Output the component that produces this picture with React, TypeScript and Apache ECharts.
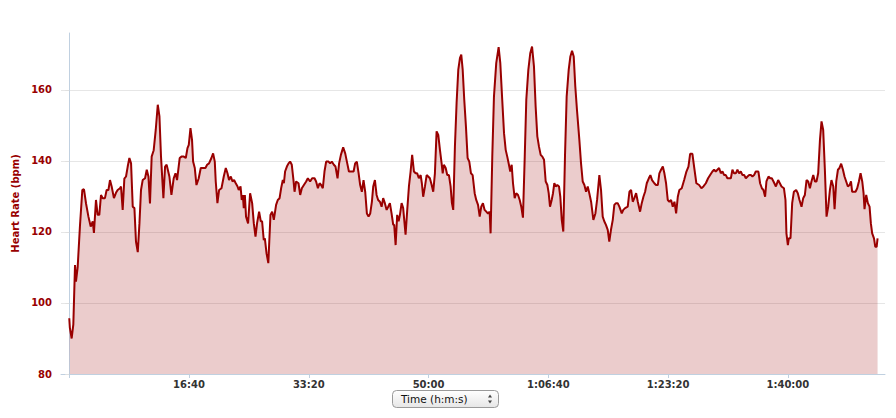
import React, { useEffect, useRef } from "react";
import * as echarts from "echarts";

// elapsed time in seconds
const timeSec = [
  0, 5, 20, 34, 48, 56, 70, 89, 109, 123, 140, 160, 179, 196, 206, 223, 237, 251, 265, 279,
  298, 312, 327, 340, 354, 373, 390, 404, 424, 432, 446, 460, 474, 488, 502, 516, 530, 544, 557, 572,
  586, 599, 613, 633, 647, 661, 674, 688, 705, 722, 739, 753, 766, 786, 800, 813, 836, 853, 872, 887,
  900, 922, 937, 956, 973, 987, 998, 1012, 1025, 1034, 1048, 1062, 1081, 1098, 1117, 1137, 1151, 1167, 1187, 1201,
  1215, 1223, 1237, 1251, 1271, 1290, 1307, 1321, 1334, 1349, 1363, 1376, 1390, 1405, 1415, 1430, 1440, 1449, 1457, 1466,
  1476, 1493, 1510, 1527, 1541, 1555, 1568, 1585, 1599, 1610, 1624, 1633, 1647, 1662, 1680, 1694, 1708, 1727, 1741, 1756,
  1769, 1783, 1792, 1802, 1817, 1831, 1844, 1858, 1872, 1881, 1894, 1914, 1928, 1942, 1959, 1978, 1992, 2011, 2028, 2048,
  2061, 2076, 2090, 2103, 2117, 2131, 2145, 2165, 2178, 2192, 2209, 2223, 2240, 2253, 2268, 2287, 2304, 2318, 2335, 2354,
  2374, 2387, 2401, 2416, 2429, 2443, 2457, 2471, 2485, 2499, 2513, 2527, 2538, 2552, 2566, 2579, 2594, 2608, 2621, 2635,
  2650, 2663, 2677, 2691, 2705, 2713, 2725, 2738, 2750, 2761, 2775, 2788, 2808, 2822, 2836, 2850, 2863, 2878, 2892, 2905,
  2919, 2934, 2944, 2955, 2970, 2984, 2997, 3011, 3026, 3039, 3053, 3067, 3081, 3095, 3109, 3118, 3128, 3143, 3156, 3170,
  3184, 3195, 3206, 3220, 3234, 3248, 3262, 3273, 3285, 3298, 3312, 3326, 3340, 3354, 3368, 3385, 3398, 3413, 3427, 3440,
  3454, 3468, 3482, 3496, 3510, 3518, 3532, 3546, 3565, 3585, 3599, 3615, 3630, 3644, 3657, 3671, 3682, 3694, 3705, 3719,
  3732, 3747, 3761, 3774, 3788, 3803, 3816, 3833, 3849, 3864, 3880, 3894, 3908, 3922, 3936, 3950, 3964, 3978, 3992, 4003,
  4014, 4028, 4039, 4050, 4062, 4075, 4089, 4100, 4112, 4125, 4139, 4153, 4170, 4184, 4198, 4212, 4225, 4239, 4259, 4273,
  4287, 4301, 4315, 4329, 4342, 4357, 4376, 4393, 4407, 4426, 4440, 4454, 4467, 4481, 4496, 4509, 4523, 4538, 4551, 4565,
  4579, 4593, 4613, 4626, 4641, 4663, 4677, 4691, 4705, 4718, 4733, 4747, 4766, 4780, 4794, 4808, 4822, 4839, 4852, 4866,
  4885, 4899, 4914, 4927, 4941, 4956, 4969, 4983, 4997, 5011, 5025, 5039, 5053, 5067, 5081, 5094, 5114, 5134, 5153, 5170,
  5184, 5203, 5217, 5236, 5259, 5278, 5295, 5315, 5334, 5351, 5370, 5384, 5398, 5412, 5426, 5440, 5454, 5468, 5482, 5495,
  5510, 5524, 5537, 5551, 5565, 5579, 5593, 5607, 5621, 5635, 5649, 5663, 5677, 5691, 5704, 5718, 5732, 5754, 5768, 5783,
  5796, 5810, 5821, 5838, 5852, 5866, 5880, 5900, 5919, 5933, 5947, 5967, 5980, 5988, 6000, 6008, 6022, 6036, 6050, 6069,
  6083, 6097, 6114, 6128, 6142, 6156, 6170, 6184, 6197, 6212, 6226, 6239, 6253, 6268, 6281, 6295, 6309, 6323, 6337, 6351,
  6364, 6379, 6390, 6404, 6418, 6431, 6445, 6460, 6473, 6487, 6501, 6515, 6527, 6537, 6551, 6565, 6579, 6593, 6607, 6621,
  6632, 6640, 6654, 6668, 6682, 6693, 6704, 6719, 6730, 6741, 6749,
];

// heart rate in bpm
const heartRate = [
  95.7, 93, 90, 94, 110.7, 106, 110, 121.5, 131.8, 132, 128, 124.3, 121.5, 123, 119.7, 129, 124.8, 124.8, 130.4, 129.5,
  129.5, 131.8, 131.8, 134.6, 132.8, 129.5, 131, 131.8, 132.3, 132.8, 126.2, 135, 135.6, 138.4, 140.8, 139.3, 127.1, 126.7, 117.3, 114.3,
  122.4, 131.8, 134.6, 135.1, 137.5, 135.6, 128, 141.2, 143, 148.7, 155.8, 152.5, 141.2, 129.5, 138.4, 138.9, 135.6, 130.4, 135.1, 136.5,
  134.6, 140.8, 141.2, 141.2, 140.8, 143.6, 144.5, 149.2, 145.9, 139.8, 138, 133.2, 135.1, 138, 138, 138, 138.9, 139.3, 140.8, 142.1,
  139.8, 134.2, 128.1, 131.8, 132.3, 135.6, 138, 136.5, 134.6, 135.6, 134.2, 134.6, 133.7, 132.8, 131.8, 132.8, 129, 130.4, 126.7, 130.4,
  124.3, 122.4, 130.9, 128.1, 122.4, 118.7, 122.4, 125.7, 123, 123, 117.7, 118.2, 114, 111.2, 124.8, 125.7, 123.4, 127.6, 129, 129.5,
  132.3, 134.6, 133.7, 137, 138.4, 139.3, 139.8, 138.9, 134.6, 131.3, 134.2, 133.7, 130.4, 132.3, 133.2, 134.2, 135.1, 134.2, 135.1, 135.1,
  134.2, 132.3, 133.7, 133.2, 132.3, 137, 139.8, 139.8, 139.3, 139.8, 138.9, 138.4, 135.1, 139.3, 141.7, 143.8, 142.1, 139.8, 137, 137,
  137, 139.3, 139.8, 136.5, 133.2, 131.3, 134.6, 131.3, 125.2, 124.3, 125.2, 128.5, 132.8, 134.6, 130.4, 129, 128.5, 127.1, 129.5, 128.1,
  126.2, 127.1, 128.1, 125.2, 122, 122, 116.3, 124.8, 123, 124.8, 128.1, 126.7, 119.2, 126.2, 132.8, 137, 141.7, 137, 136.5, 136.5,
  135.1, 136, 133.7, 129.9, 132.8, 136, 135.6, 135.1, 133.2, 131.3, 136.5, 148.3, 147.3, 143.1, 139.3, 136.5, 138.9, 138, 136, 136,
  132.8, 128.1, 126.2, 144, 156.3, 165.6, 168.9, 169.9, 165.6, 157.2, 149.7, 140.8, 139.8, 136.5, 136, 130.9, 129, 127.6, 124.3, 127.1,
  128.1, 126.2, 125.7, 125.2, 125.7, 119.6, 141.2, 158.1, 167.5, 172, 167.5, 157.2, 147.8, 143.1, 141.2, 138.9, 137, 138.9, 133.7, 129.5,
  130.9, 130.4, 129, 127.1, 124, 141.2, 157.2, 165.6, 170.3, 172.2, 166.6, 155.3, 146.9, 144, 141.7, 141.2, 140.3, 134.2, 133.2, 130.9,
  127.1, 129, 130.9, 133.7, 132.8, 133.2, 132.8, 129.9, 123.4, 120.1, 141.2, 158.1, 165.6, 169.4, 171, 169.4, 161, 154.4, 145.9, 139.3,
  134.2, 133.2, 131.3, 132.8, 130.9, 128.5, 123.4, 125.2, 129, 136, 131.8, 124.3, 123, 122, 120.6, 117.3, 120.6, 123.4, 127.6, 128.1,
  128.1, 127.1, 125.2, 126.2, 126.7, 127.1, 131.3, 131.8, 128.5, 129.5, 130.9, 128.5, 125.7, 128.1, 129.9, 131.3, 133.7, 135.1, 136, 134.6,
  133.7, 133.2, 133.2, 136.5, 137.5, 138.4, 136.5, 133.7, 129, 128.5, 129, 127.1, 128.5, 125.2, 129.9, 131.8, 132.3, 134.6, 137, 138.4,
  142, 142, 138.4, 133.7, 133.2, 132.3, 132.8, 133.7, 135.1, 136, 137, 137.5, 137, 137.5, 138, 136.5, 137, 136, 136, 135.1,
  135.1, 135.1, 137.5, 136.5, 136.5, 137.5, 136.5, 137, 136, 136, 135.1, 135.6, 136, 136, 135.6, 136, 137, 137, 133.7, 132.3,
  131.8, 129.9, 134.2, 135.6, 135.1, 135.1, 134.2, 132.8, 134.6, 133.7, 132.8, 132.3, 129, 119.6, 116.3, 118.2, 118.2, 128.1, 131.3, 131.8,
  130.9, 129, 127.1, 129.5, 130.4, 134.6, 134.2, 132.3, 134.2, 136, 134.2, 134.2, 136.5, 145.9, 151.1, 148.7, 137.5, 124.3, 127.1, 131.8,
  134.6, 132.8, 126.4, 134.2, 137.5, 138, 139.2, 137.5, 135.6, 134.2, 132.8, 133.2, 134.2, 131.3, 131.3, 131.3, 132.3, 134.2, 136.5, 134.2,
  130.9, 126.4, 130.4, 128.1, 127.1, 122.4, 119.6, 118.2, 115.8, 115.8, 118.2,
];

const xTickValues = [0, 1000, 2000, 3000, 4000, 5000, 6000];
const xLabelValues = [1000, 2000, 3000, 4000, 5000, 6000];
const yTickValues = [80, 100, 120, 140, 160];

const LINE_COLOR = "#990000";
const FONT = "'DejaVu Sans', sans-serif";

function pad(n: number) {
  return n < 10 ? "0" + n : "" + n;
}
function fmtTime(s: number) {
  const h = Math.floor(s / 3600);
  const m = Math.floor((s % 3600) / 60);
  const sec = Math.round(s % 60);
  return h > 0 ? `${h}:${pad(m)}:${pad(sec)}` : `${m}:${pad(sec)}`;
}

export default function App() {
  const ref = useRef<HTMLDivElement>(null);
  useEffect(() => {
    if (!ref.current) return;
    const chart = echarts.init(ref.current, null, { renderer: "svg" });
    const data = timeSec.map((t, i) => [t, heartRate[i]]);
    chart.setOption({
      animation: false,
      backgroundColor: "#ffffff",
      grid: { left: 61, right: 11, top: 33, bottom: 44, containLabel: false, outerBoundsMode: "none" },
      xAxis: {
        type: "value",
        min: -69,
        max: 6811,
        axisLine: { show: true, lineStyle: { color: "#c0d0e0", width: 1 } },
        axisTick: { show: true, length: 4, customValues: xTickValues, lineStyle: { color: "#c0d0e0" } },
        axisLabel: {
          customValues: xLabelValues,
          formatter: (v: number) => fmtTime(v),
          color: "#333333",
          fontFamily: FONT,
          fontWeight: "bold",
          fontSize: 10,
          margin: 5,
        },
        splitLine: { show: false },
      },
      yAxis: {
        type: "value",
        min: 80,
        max: 176,
        name: "Heart Rate (bpm)",
        nameLocation: "middle",
        nameRotate: 90,
        nameGap: 41,
        nameTextStyle: { color: LINE_COLOR, fontFamily: FONT, fontWeight: "bold", fontSize: 10 },
        axisLine: { show: true, lineStyle: { color: "#c0d0e0", width: 1 } },
        axisTick: { show: true, length: 4, customValues: yTickValues, lineStyle: { color: "#e0e0e0" } },
        axisLabel: {
          customValues: yTickValues,
          color: LINE_COLOR,
          fontFamily: FONT,
          fontWeight: "bold",
          fontSize: 10,
          margin: 9,
        },
        splitLine: { show: true, lineStyle: { color: "#e6e6e6", width: 1 } },
      },
      series: [
        {
          type: "line",
          data,
          showSymbol: false,
          symbol: "none",
          lineStyle: { color: LINE_COLOR, width: 2 },
          itemStyle: { color: LINE_COLOR },
          areaStyle: { color: LINE_COLOR, opacity: 0.2 },
          z: 3,
        },
      ],
      graphic: [
        {
          type: "rect",
          shape: { x: 392.5, y: 390.5, width: 106, height: 17, r: 4 },
          style: {
            fill: new echarts.graphic.LinearGradient(0, 0, 0, 1, [
              { offset: 0, color: "#ffffff" },
              { offset: 1, color: "#e6e6e6" },
            ]),
            stroke: "#9a9a9a",
            lineWidth: 1,
          },
        },
        {
          type: "text",
          x: 401,
          y: 399,
          style: {
            text: "Time (h:m:s)",
            fontFamily: FONT,
            fontSize: 10.5,
            fill: "#111111",
            verticalAlign: "middle",
          },
        },
        {
          type: "polygon",
          shape: { points: [[488, 397.5], [490, 394.5], [492, 397.5]] },
          style: { fill: "#444444" },
        },
        {
          type: "polygon",
          shape: { points: [[488, 400.5], [490, 403.5], [492, 400.5]] },
          style: { fill: "#444444" },
        },
      ],
    });
    return () => chart.dispose();
  }, []);
  return (
    <div
      ref={ref}
      style={{ position: "fixed", left: 0, top: 0, width: 896, height: 418, background: "#fff" }}
    />
  );
}
